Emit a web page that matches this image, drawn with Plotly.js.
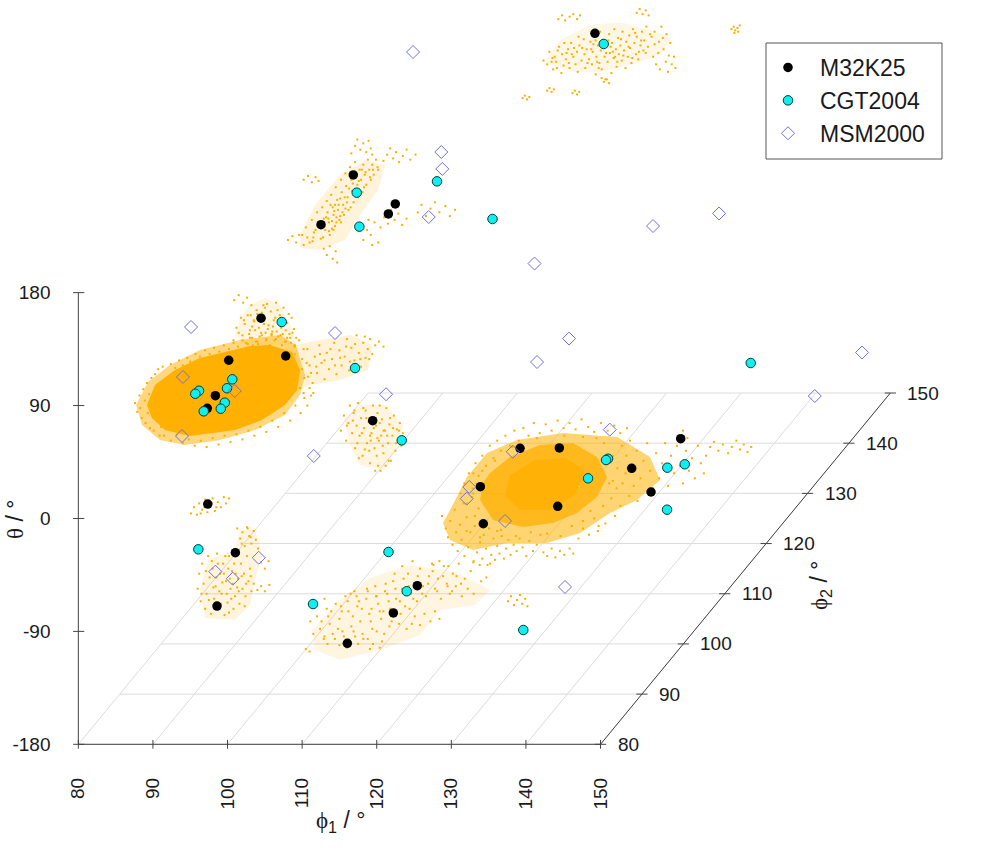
<!DOCTYPE html>
<html><head><meta charset="utf-8">
<script src="https://cdn.plot.ly/plotly-3.0.1.min.js"></script>
<style>html,body{margin:0;padding:0;background:#fff}</style></head>
<body><div id="chart" style="width:1000px;height:850px"></div>
<script>
// axis ticks
const phi1Ticks=[80,90,100,110,120,130,140,150];
const phi2Ticks=[80,90,100,110,120,130,140,150];
const thetaTicks=[-180,-90,0,90,180];

// reference conformers: phi1, phi2, theta (deg)
const m32Phi1=[110.4,94.66,100.29,99.36,90.33,104.49,107.8,100.16,98.37,97.29,119.46,122.56,127.83,144.1,137.53,140.12,117.24,117.64,127.61,97.35,101.05,98.59,125.44,122.23,116.06];
const m32Phi2=[150,120,120,120,120,80,80,80,80,80,80,110,110,110,110,110,110,110,110,80,80,80,80,80,80];
const m32Theta=[106.7,113.8,90.7,82.7,74.2,159.6,129.5,126.1,97.9,87.8,77.9,-64.1,-63.8,-56.4,-80,-98.9,-94.7,-124.2,-110.3,11.5,-27.3,-69.8,-53.6,-75.3,-99.5];

const cgtPhi1=[111.58,95.12,95.47,105.88,113.32,107.27,117.09,100.64,99.93,96.18,95.68,99.63,99.09,96.81,123.35,131.68,134.36,134.09,142.31,144.64,142.27,142.39,96.09,121.58,124.02,111.46,139.65];
const cgtPhi2=[150,120,120,120,120,80,80,80,80,80,80,80,80,80,80,110,110,110,110,110,110,130,80,80,80,80,80];
const cgtTheta=[98.2,99.7,72.6,108.7,78.7,156.6,119.9,110.9,103.8,101.8,99.4,92.3,87.5,85.4,62.3,-88,-72.4,-73.4,-79.5,-76.8,-113,-76.1,-24.6,-26.7,-58,-68.2,-88.9];

const msmPhi1=[97.12,106.46,106.59,104.77,118.95,129.29,138.14,95.11,114.41,94.03,100.97,93.9,111.56,121.25,124.84,129.13,146.21,140.98,134.59,121.58,115.76,115.41,120.55,145.24,104.18,98.37,100.7];
const msmPhi2=[130,120,120,120,120,130,130,80,80,80,80,80,80,80,110,110,150,148,110,110,110,110,110,80,80,80,80];
const msmTheta=[171.8,132.1,118.6,80.3,43.2,33.1,43.1,152.6,147.8,112.8,101.6,65.7,49.8,99,4.7,23.4,-147.7,-174.4,-49.2,-66.8,-94.9,-104.2,-122,-54.6,-31.3,-42.4,-48];

// dense population outlines (phi1,theta pairs)
const blobLeftPhi2=80;
const blobLeftFringe=[87.74,90.4,89.34,108.8,92.29,122.3,96.31,134.3,101.68,142.3,107.04,146.2,109.18,138.3,110.39,114.4,109.72,98.4,107.7,82.5,103.68,70.5,98.99,62.5,94.3,58.6,90.95,62.5,88.54,74.5];
const blobLeftOuter=[89.2,90.4,90.28,106.4,92.96,118.3,96.31,127.9,99.66,132.7,103,137.5,105.7,138.3,108.65,132.7,109.72,118.3,109.32,102.4,107.7,90.4,104.6,78.5,101,70.5,98.05,68.1,94.97,65.7,91.62,70.5,89.87,80.1];
const blobRightPhi2=110;
const blobRightOuter=[113.18,-113.2,115.45,-86.9,118.13,-67.8,122.16,-57.5,128.32,-51.9,135.56,-55.1,139.99,-71,141.32,-89.3,138.24,-105.3,134.62,-115.6,130.6,-131.6,126.18,-139.6,120.82,-139.6,116.26,-145.1,113.18,-137.2,112.24,-123.6];
const blobRightMid=[118.54,-83.8,121.22,-71,125.24,-61.4,129.66,-59.8,132.88,-71,134.22,-86.9,132.88,-102.9,130.2,-115.6,126.98,-123.6,122.96,-126.8,118.94,-121.2,117.2,-105.3,117.6,-91.7];
const blobRightCore=[121.22,-85.4,124.57,-73.4,128.59,-71.8,131.27,-81.4,129.93,-101.3,126.58,-113.2,122.56,-113.2,120.54,-101.3];

// pale outlines of the sparse populations
const hazeA=[103.71,83.8,105.72,101.4,109.74,113.3,113.76,115.7,117.78,109.3,120.73,103,119.12,89.4,115.1,81.4,111.08,75.9,107.06,75.9];
const hazeB=[87.52,65.9,89.53,89.8,92.88,113.8,96.23,125.7,98.91,121.7,97.98,101.8,95.56,81.9,93.55,62,90.2,54,87.52,55.6];
const hazeD=[101.68,159.8,103.02,170.1,105.03,175.7,107.04,170.1,108.78,150.2,109.18,138.3,102.35,138.3,101.01,146.2];
const hazeTail=[107.7,136.7,112.4,142.3,116.44,146.2,119.4,138.3,118.85,118.3,115.08,110.4,111.06,106.4,108.38,98.4];
const hazeE=[115.75,78.5,117.76,90.4,121.11,90.4,123.52,74.5,122.45,54.6,121.11,38.6,117.76,42.6,116.42,58.6];
const hazeH=[96.31,-57,97.39,-33.1,101.01,-25.1,101.68,-9.2,103.69,-9.2,104.63,-29.1,103.69,-49,103.02,-69,101.01,-80.9,96.99,-79.3];
const hazeI=[111.33,-88.9,115.08,-65,119.1,-47.4,124.47,-37.1,130.5,-42.7,135.19,-57,133.18,-69,128.49,-73,125.81,-92.9,120.44,-104.8,115.08,-112.8,111.73,-104.8];

// sparse populations (phi1,theta pairs at a given phi2)
const cloudAPhi2=150;
const cloudA=[103.5,85,104,82,104.3,92,104.8,78,105,88,105.2,84,105.6,96,105.9,75,106,90,106.2,81,106.5,86,106.8,94,107,79,107.2,99,107.5,88,107.8,82,108,92,108.1,76,108.3,97,108.6,85,108.9,102,109,90,109.1,79,109.3,94,109.6,86,109.8,100,110,82,110.1,92,110.3,105,110.5,74,110.6,88,110.8,97,111,83,111.1,108,111.2,93,111.3,78,111.5,101,111.7,88,111.8,70,112,96,112.1,84,112.3,106,112.4,91,112.6,75,112.7,99,112.9,87,113,110,113.2,94,113.3,80,113.5,103,113.6,90,113.8,97,114,85,114.1,108,114.3,93,114.5,79,114.6,100,114.8,88,115,105,115.1,95,115.3,83,115.5,110,115.7,99,115.9,90,116,104,116.2,86,116.5,97,116.7,108,116.9,93,117,101,117.3,112,117.5,96,118,104,118.2,88,118.4,108,118.6,82,119,100,119.1,78,119.3,112,119.6,94,119.9,84,120,106,120.2,76,120.5,99,120.7,82,121,88,121.2,79,
105.5,118,106,121,106.4,117,107,120,107.5,122,108,118,108.4,121,116,123,116.4,126,116.8,122,117.2,125,117.6,121,111.3,71,111.6,68,112,70,112.3,67,100.7,55,101,57,101.3,54,101.6,56,104,61,104.3,63,104.6,60,104.9,62,107.4,59,107.7,61,108,58,108.3,60,128.7,110,129,112,129.2,109,129.5,111,129.8,113,129.1,107,129.6,108,
104.7,87,105.4,93,106.3,99,106.9,83,107.6,95,108.2,104,109.4,83,110.2,98,110.9,79,111.4,96,112.2,101,112.8,92,113.4,84,113.9,102,114.2,89,114.9,96,115.4,87,115.8,107,116.3,92,116.6,101,117.2,91,117.8,106,118.4,98,118.9,91,119.5,103,120.3,89,110.7,84,111.9,91,112.5,96,113.1,88,109.9,94,110.5,101,108.7,95,107.3,90,106.6,91,105.3,79,104.6,84];

const cloudBPhi2=120;
const cloudB=[87.8,66,88.3,72,88.8,60,89.1,78,89.4,68,89.8,84,90,74,90.3,63,90.5,88,90.7,79,90.9,70,91.1,93,91.2,84,91.4,76,91.5,66,91.7,98,91.9,88,92,82,92.2,73,92.3,104,92.5,94,92.6,86,92.8,78,93,110,93.1,100,93.3,90,93.4,82,93.6,115,93.7,105,93.9,96,94,86,94.2,120,94.4,110,94.5,101,94.7,92,94.9,124,95,114,95.2,106,95.3,96,95.5,118,95.7,110,95.9,100,96,122,96.2,114,96.4,106,96.6,126,96.8,118,97,110,97.2,122,97.4,114,97.7,126,98,118,91.6,90,92.4,80,93,76,93.5,96,92,70,91,80,
94.4,131,94.9,137,95.2,142,95.6,134,96,139,96.4,132,96.7,141,97,135,97.2,130,
98.7,125,99.2,130,99.6,135,100,127,100.4,132,100.8,124,101.3,129,101.8,134,102.3,126,103,130,
85.9,62,86.5,65,87,60,87.4,66,88,58,88.5,64,89.2,61,88,110,88.6,113,89.1,108,89.6,112,90,109,
90.7,55,91.1,50,91.5,57,91.9,47,92.3,53,92.5,44,
98.3,72,98.8,80,99.3,75,99.7,86,100.2,78,100.7,83,101.2,74,101.8,79,103.3,84,103.8,90,104.4,81,105,87,105.6,92,106.2,84,107,89,107.6,81,108.3,86,96,62,96.5,70,97,66,97.5,76,98,60,97.2,58,96.7,78,
90.8,73,91.3,79,91.8,71,92.1,85,92.4,76,92.7,90,93.2,84,93.8,92,94.3,88,94.8,98,95.1,102,95.4,109,96.1,104,96.3,116,96.9,112,91.4,69,90.6,64,90.2,72,89.6,70,89.3,64,92.9,81,93.6,87,94.1,103,94.6,107,95.8,118,97.3,118,97.9,120,91.8,77,92.2,90,92.9,95];

const cloudCPhi2=80;
const cloudC=[87.6,92,87.9,85,88.2,98,88.3,88,88.5,80,88.7,103,88.9,94,89,76,89.2,108,89.3,84,89.5,99,89.6,72,89.8,112,90,88,90.1,70,90.3,115,90.5,78,90.7,119,90.9,66,91.1,73,91.3,121,91.5,66,
92.4,123,93,120,93.5,126,94,122,94.6,128,95,125,95.7,131,96.3,129,97,134,97.6,131,98.2,136,98.9,133,99.5,138,100.2,135,100.8,140,101.4,137,102,142,102.7,139,103.3,144,104,141,104.6,146,105.2,142,105.9,147,106.5,143,107.1,146,107.8,141,108.4,144,109,138,109.6,142,110.2,135,
92.4,62,93.2,67,94,60,94.8,63,95.6,58,96.4,62,97.2,57,98,64,98.8,59,99.6,66,100.4,61,101.2,67,102,63,102.8,70,103.6,66,104.4,73,105.2,69,106,78,106.8,73,107.6,84,108.4,78,109.1,90,109.8,84,110.3,96,110.7,90,111,104,111.2,98,
108.5,125,109,131,109.5,118,110,127,110.3,112,110.7,135,111,122,111.4,108,111.7,129,112,116,112.3,138,112.6,124,113,111,113.3,132,113.6,119,114,127,114.3,140,114.6,115,115,134,115.3,122,115.7,129,116,143,116.3,118,116.6,136,117,126,117.3,146,117.6,132,117.9,121,118.2,140,118.5,128,118.8,135,119.1,143,119.4,131,119.8,138,120.3,141,120.9,137,
110,119,110.6,124,111.2,116,111.9,121,112.4,131,113,126,113.8,135,114.4,122,115.1,128,115.9,137,116.4,125,117.1,139,117.8,127,118.4,145,119,127,109,110,109.7,104,110.2,100,110.8,113,111.5,100];

const cloudDPhi2=80;
const cloudD=[100.9,174,101.5,178,102.1,172,102.6,176,103,144,103.5,158,103.9,166,104.2,152,104.5,148,104.8,170,105,160,105.2,143,105.5,154,105.8,165,106,149,106.2,158,106.5,172,106.8,145,107,162,107.2,152,107.5,168,107.7,141,108,156,108.3,147,108.6,160,108.9,151,109.2,144,102.3,155,102.7,162,101.8,160,103.2,170,103.7,150,104.1,139,104.6,164,105.3,171,105.7,138,106.3,142,106.7,166,107.3,138,107.8,150,108.2,163,102,146,102.5,140,103,150,103.4,138,101.2,152,100.8,142,109,137,108.5,140,106.1,153,105.1,148,104.2,158,104.9,155,103.1,162,103.6,157,
103.3,153,104.3,145,104.7,161,105.4,151,105.9,146,106.4,160,106.9,155,107.6,157,108,144,102.9,147,102.2,158,101.5,148,104,163,105,168,106.6,149,107.4,147,103.8,141,108.7,148];

const cloudEPhi2=80;
const cloudE=[115.2,70,115.6,82,115.9,62,116.2,76,116.4,90,116.7,68,116.9,84,117.1,56,117.3,74,117.5,92,117.7,66,117.9,80,118.1,50,118.3,72,118.5,86,118.7,60,118.9,77,119.1,44,119.3,68,119.5,90,119.7,56,119.9,74,120.1,84,120.3,62,120.5,38,120.7,79,120.9,52,121.1,70,121.3,88,121.5,60,121.7,75,121.9,46,122.1,66,122.3,82,122.5,54,122.7,71,122.9,62,123.1,76,123.3,58,123.5,68,119.2,62,120,50,120.6,66,118.4,55,117.6,48,119.8,38,120.2,42,121.2,42,120.9,70,119.4,80,
116,74,116.8,78,117.4,60,118,68,118.6,80,119,54,119.6,72,120.1,64,120.4,76,120.8,58,121.4,66,121.8,80,122.2,72,122.6,60,123,70,117,86,118.2,88,120.4,90,121.6,46,119.1,66];

const cloudGPhi2=80;
const cloudG=[95.1,4,95.5,9,95.9,3,96.2,12,96.6,7,97,15,97.3,5,97.7,10,98,16,98.3,6,98.7,13,99.1,9,99.5,17,99.8,12,100.2,16,96.9,9,97.9,12,98.5,9,96.4,4];

const cloudHPhi2=80;
const cloudH=[101.3,-8,101.7,-16,102,-11,102.3,-22,102.6,-7,102.9,-14,103.2,-20,103.5,-10,103.8,-17,104.1,-24,
96,-56,96.2,-44,96.4,-66,96.6,-36,96.8,-52,97,-72,97.2,-60,97.4,-30,97.6,-47,97.8,-76,98,-40,98.2,-64,98.4,-54,98.6,-28,98.8,-72,99,-44,99.2,-60,99.4,-36,99.6,-77,99.8,-50,100,-67,100.2,-30,100.4,-56,100.6,-42,100.8,-72,101,-62,101.2,-26,101.4,-48,101.6,-68,101.8,-36,102,-56,102.2,-44,102.4,-62,102.6,-30,102.8,-50,103,-40,103.2,-58,100.1,-40,99.3,-51,98.5,-47,100.7,-52,99.9,-60,101.3,-55,
103.5,-52,104,-57,104.5,-54,105,-58,105.6,-53,104.5,-35,105,-40,105.5,-34,
97.1,-42,97.5,-65,98.1,-55,98.7,-36,99.1,-68,99.5,-44,100.3,-48,100.5,-64,100.9,-36,101.5,-58,101.9,-46,102.3,-70,102.5,-52,103.1,-46,96.5,-60,97.9,-34,99.7,-30,98.9,-58,100.2,-75,101.1,-44,102.7,-8,103.1,-15,101.9,-20];

const cloudIPhi2=80;
const cloudI=[111.1,-82,111.5,-92,112,-78,112.4,-88,112.9,-96,113.3,-72,113.7,-84,114.1,-92,114.5,-68,115,-80,115.4,-90,115.8,-62,116.2,-74,116.6,-86,117,-58,117.4,-70,117.8,-82,118.2,-96,118.6,-64,119,-76,119.4,-88,119.8,-54,120.2,-68,120.6,-80,121,-92,121.4,-60,121.8,-72,122.2,-50,122.6,-64,123,-84,123.4,-56,123.8,-70,124.2,-44,124.6,-60,125,-52,125.4,-66,125.8,-40,126.2,-54,126.6,-62,127,-46,127.4,-36,127.8,-56,128.2,-48,128.6,-64,129,-38,129.4,-52,129.8,-60,130.2,-44,130.6,-54,131,-36,131.4,-62,131.8,-48,132.2,-56,132.6,-42,133,-60,134,-50,134.7,-47,135.2,-36,127.6,-37,128.4,-34,129.6,-38,133,-34,133.8,-37,
114.4,-96,115,-101,115.6,-94,116.2,-98,116.9,-90,117.5,-100,118.1,-92,118.8,-96,119.5,-100,120,-90,120.7,-98,125.1,-78,125.8,-85,126.4,-76,127.2,-82,127.8,-74,128.4,-80,
113,-64,113.9,-74,115.2,-70,116.5,-60,117.6,-66,118.8,-58,120,-62,121.2,-52,122.4,-44,123.4,-38,124.8,-34,119.3,-72,120.9,-74,122,-82,123.2,-76,124.4,-72,110.5,-104,111,-106,124,-88,124.7,-84,121.7,-86,
112.6,-82,113.5,-78,114.8,-88,115.3,-74,116.1,-66,116.8,-78,117.3,-62,118,-72,118.7,-56,119.2,-82,119.9,-62,120.4,-74,121.1,-58,121.6,-66,122.5,-56,123.1,-66,123.6,-48,124.3,-54,124.9,-64,125.5,-46,126.1,-60,126.9,-52,127.5,-42,128.1,-58,128.9,-46,129.5,-54,130.1,-58,130.7,-46,131.3,-52,113.4,-100,116,-103,119.1,-104,120.4,-103,113,-94,117.1,-94];

const cloudJPhi2=80;
const cloudJ=[137.6,-66,138,-62,138.4,-69,138.8,-65,139.2,-61,139.5,-68,139.9,-64,140.2,-70];

const cloudFPhi2=110;
const cloudF=[112.1,-118,112.6,-128,112.9,-135,113.2,-122,113.5,-141,113.8,-113,114,-131,114.2,-146,114.5,-125,114.7,-137,115,-108,115.1,-150,115.4,-119,115.6,-143,115.9,-131,116.1,-103,116.3,-155,116.5,-126,116.8,-147,117,-112,117.2,-139,117.5,-152,117.7,-133,118,-144,118.2,-157,118.4,-128,118.7,-149,119,-136,119.2,-153,119.5,-142,119.8,-148,120.1,-134,120.4,-152,120.7,-144,121,-137,121.3,-149,121.7,-141,122.1,-146,122.5,-136,122.9,-143,123.4,-150,123.8,-138,124.3,-146,124.8,-141,125.3,-133,125.7,-147,126.2,-150,126.8,-144,127.3,-151,127.9,-146,128.5,-149,129.2,-144,129.7,-148,130.4,-136,131,-128,131.8,-133,132.5,-120,133.1,-126,
114.6,-100,115.1,-92,115.7,-84,116.2,-96,116.6,-76,117,-86,117.5,-70,118,-78,118.5,-62,119,-72,119.5,-58,120,-66,120.6,-54,121.2,-62,121.8,-50,122.4,-58,123,-48,123.7,-54,124.4,-44,125.2,-52,126,-45,126.8,-50,127.6,-42,128.4,-48,129.2,-44,130,-49,130.8,-41,131.7,-47,132.5,-51,133.4,-44,134.3,-50,135.2,-46,136,-52,136.9,-48,
136.2,-62,136.8,-70,137.3,-58,137.8,-78,138.2,-66,138.7,-88,139.1,-74,139.6,-60,140,-82,140.4,-96,140.8,-68,141.2,-88,141.6,-76,142,-60,142.4,-94,142.8,-70,143.2,-84,143.6,-62,144,-78,144.4,-92,144.8,-66,145.2,-82,145.6,-72,146,-88,146.4,-62,146.8,-76,147.2,-84,147.5,-70,143.8,-54,144.4,-50,145,-56,
134.8,-104,135.5,-96,136,-110,136.7,-84,137.2,-102,137.8,-94,138.3,-106,135.3,-118,134,-124,133,-130,132,-114,131,-122,129.5,-126,128,-134,126.2,-132,124,-131,122,-134,120,-129,118,-126,116.5,-118,115.4,-108,116.3,-84,
135,-70,135.6,-80,136.3,-92,134.5,-92,133.8,-60,132.8,-56,131,-55,128.5,-54,124.8,-56,121.5,-63,119.2,-74,117.5,-82,116.3,-100,115.4,-130,117.2,-135,119.5,-130,133.7,-110,135,-90];

const cloudF2Phi2=120;
const cloudF2=[142.5,-103,143,-99,143.6,-106,144.2,-101,144.9,-108,145.4,-103,146,-98,146.5,-105,147,-101,147.5,-107,148,-103];

// projection of the three axes into the sheet
const SHEAR_X=0.555, SHEAR_Y=4;
const projX=(p1,p2)=>p1+(p2-80)*SHEAR_X;
const projY=(t,p2)=>t+(p2-80)*SHEAR_Y;

function line(xs,ys,color,width){
  return {type:'scatter',mode:'lines',x:xs,y:ys,line:{color:color,width:width},showlegend:false,hoverinfo:'skip'};
}
const gridX=[],gridY=[];
phi1Ticks.forEach(p=>{gridX.push(projX(p,80),projX(p,150),null);gridY.push(projY(-180,80),projY(-180,150),null);});
phi2Ticks.forEach(p=>{gridX.push(projX(80,p),projX(150,p),null);gridY.push(projY(-180,p),projY(-180,p),null);});

const axX=[80,150,null,80,80,null,projX(150,80),projX(150,150)];
const axY=[-180,-180,null,-180,180,null,-180,projY(-180,150)];

const tickX=[],tickY=[];
phi1Ticks.forEach(p=>{tickX.push(p,p,null);tickY.push(-183.5,-176.5,null);});
thetaTicks.forEach(t=>{tickX.push(79.3,80.8,null);tickY.push(t,t,null);});
phi2Ticks.forEach(p=>{tickX.push(projX(150,p)-0.75,projX(150,p)+0.75,null);tickY.push(projY(-180,p),projY(-180,p),null);});

function poly(flat,phi2,alpha){
  const xs=[],ys=[];
  for(let i=0;i<flat.length;i+=2){xs.push(projX(flat[i],phi2));ys.push(projY(flat[i+1],phi2));}
  return {type:'scatter',mode:'lines',x:xs,y:ys,fill:'toself',fillcolor:'rgba(255,176,0,'+alpha+')',line:{width:0,color:'rgba(0,0,0,0)'},showlegend:false,hoverinfo:'skip'};
}
function cloud(flat,phi2){
  const xs=[],ys=[];
  for(let i=0;i<flat.length;i+=2){xs.push(projX(flat[i],phi2));ys.push(projY(flat[i+1],phi2));}
  return {type:'scatter',mode:'markers',x:xs,y:ys,marker:{symbol:'square',size:2,color:'#F8B000',line:{width:0}},showlegend:false,hoverinfo:'skip'};
}
function pts(name,p1,p2,t,marker){
  return {type:'scatter',mode:'markers',name:name,x:p1.map((v,i)=>projX(v,p2[i])),y:t.map((v,i)=>projY(v,p2[i])),marker:marker,hoverinfo:'skip',cliponaxis:false};
}

const traces=[
  line(gridX,gridY,'#dcdcdc',1),
  line(axX,axY,'#444444',1),
  line(tickX,tickY,'#444444',1),
  poly(hazeA,cloudAPhi2,0.1),poly(hazeB,cloudBPhi2,0.14),poly(hazeD,cloudDPhi2,0.12),poly(hazeTail,cloudCPhi2,0.16),
  poly(hazeE,cloudEPhi2,0.12),poly(hazeH,cloudHPhi2,0.13),poly(hazeI,cloudIPhi2,0.12),
  poly(blobLeftFringe,blobLeftPhi2,0.5),
  poly(blobLeftOuter,blobLeftPhi2,1),
  poly(blobRightOuter,blobRightPhi2,0.55),
  poly(blobRightMid,blobRightPhi2,0.75),
  poly(blobRightCore,blobRightPhi2,0.8),
  cloud(cloudA,cloudAPhi2),cloud(cloudB,cloudBPhi2),cloud(cloudC,cloudCPhi2),cloud(cloudD,cloudDPhi2),
  cloud(cloudE,cloudEPhi2),cloud(cloudF,cloudFPhi2),cloud(cloudF2,cloudF2Phi2),cloud(cloudG,cloudGPhi2),
  cloud(cloudH,cloudHPhi2),cloud(cloudI,cloudIPhi2),cloud(cloudJ,cloudJPhi2),
  pts('M32K25',m32Phi1,m32Phi2,m32Theta,{symbol:'circle',size:9.5,color:'#000000',line:{width:0}}),
  pts('CGT2004',cgtPhi1,cgtPhi2,cgtTheta,{symbol:'circle',size:9.5,color:'#0FEFEF',line:{width:1,color:'#003c3c'}}),
  pts('MSM2000',msmPhi1,msmPhi2,msmTheta,{symbol:'diamond-open',size:10,color:'#7070E0',line:{width:1,color:'#7070E0'}})
];

const PHI='<span style="font-family:\'Liberation Serif\'">\u03D5</span>';
const labelFont={family:'Liberation Sans, Arial, sans-serif',size:19,color:'#1a1a1a'};
const titleFont={family:'Liberation Sans, Arial, sans-serif',size:23,color:'#1a1a1a'};
const annotations=phi2Ticks.map(p=>({x:projX(150,p),y:projY(-180,p),xref:'x',yref:'y',text:String(p),showarrow:false,xanchor:'left',yanchor:'middle',xshift:15,font:labelFont}));
annotations.push({xref:'paper',yref:'paper',x:0.340,y:1-821/850,text:PHI+'<sub>1</sub> / \u00B0',showarrow:false,xanchor:'center',yanchor:'middle',font:titleFont});
annotations.push({xref:'paper',yref:'paper',x:0.820,y:1-586/850,text:PHI+'<sub>2</sub> / \u00B0',showarrow:false,textangle:-90,xanchor:'center',yanchor:'middle',font:titleFont});
annotations.push({xref:'paper',yref:'paper',x:0.015,y:1-520/850,text:'<span style="font-family:\'Liberation Serif\'">\u03B8</span> / \u00B0',showarrow:false,textangle:-90,xanchor:'center',yanchor:'middle',font:titleFont});

const layout={
  width:1000,height:850,margin:{l:0,r:0,t:0,b:0},paper_bgcolor:'#fff',plot_bgcolor:'#fff',
  hovermode:false,
  xaxis:{range:[69.5,203.55],domain:[0,1],anchor:'free',position:105.7/850,tickmode:'array',tickvals:phi1Ticks,ticktext:phi1Ticks.map(String),ticks:'outside',ticklen:25,tickcolor:'rgba(0,0,0,0)',tickangle:-90,showgrid:false,zeroline:false,showline:false,tickfont:labelFont},
  yaxis:{range:[-264.25,413.25],domain:[0,1],anchor:'free',position:78.3/1000,tickmode:'array',tickvals:thetaTicks,ticktext:thetaTicks.map(String),ticks:'outside',ticklen:24,tickcolor:'rgba(0,0,0,0)',showgrid:false,zeroline:false,showline:false,tickfont:labelFont},
  showlegend:true,
  legend:{x:0.756,y:1-46/850,xanchor:'left',yanchor:'top',bgcolor:'rgba(0,0,0,0)',borderwidth:0,itemwidth:54,font:{family:'Liberation Sans, Arial, sans-serif',size:23,color:'#1a1a1a'},itemsizing:'trace'},
  shapes:[{type:'rect',xref:'paper',yref:'paper',x0:0.766,x1:0.942,y0:1-159/850,y1:1-43/850,line:{color:'#555555',width:1},fillcolor:'rgba(0,0,0,0)'}],
  annotations:annotations
};
Plotly.newPlot('chart',traces,layout,{displayModeBar:false,staticPlot:true});
</script></body></html>
